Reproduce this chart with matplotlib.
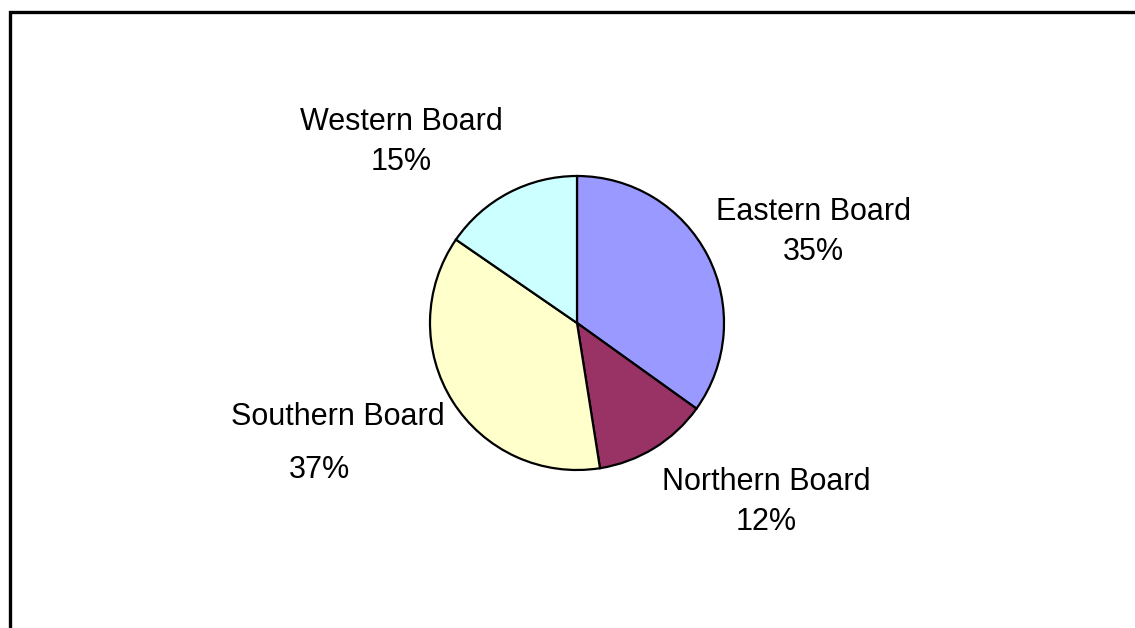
import matplotlib
matplotlib.use("Agg")
import matplotlib.pyplot as plt
from matplotlib.patches import Rectangle

# slice data, clockwise from 12 o'clock
boards = ["Eastern Board", "Northern Board", "Southern Board", "Western Board"]
shares = [34.9, 12.6, 37.1, 15.4]
pct_labels = ["35%", "12%", "37%", "15%"]
colors = ["#9999FF", "#993366", "#FFFFCC", "#CCFFFF"]

# label anchor points (pixels from top-left, name line / percent line)
name_pos = [(813, 212), (766, 482), (338, 417), (401, 122)]
pct_pos = [(813, 252), (766, 522), (319, 470), (401, 162)]

W, H = 1135, 628
fig = plt.figure(figsize=(W / 100, H / 100), dpi=100)
ax = fig.add_axes([0, 0, 1, 1])

ax.pie(shares, colors=colors, startangle=90, counterclock=False,
       center=(577, H - 323), radius=147, frame=True,
       wedgeprops=dict(edgecolor="black", linewidth=1.6))

ax.set_xlim(0, W)
ax.set_ylim(0, H)
ax.set_aspect("equal")
ax.axis("off")

# outer chart border
ax.add_patch(Rectangle((9.5, -20), W + 20, H - 11.5 + 20, fill=False,
                       edgecolor="black", linewidth=2.4))

for name, pct, npos, ppos in zip(boards, pct_labels, name_pos, pct_pos):
    ax.text(npos[0], H - npos[1], name, ha="center", va="center",
            fontsize=22, family="Liberation Sans")
    ax.text(ppos[0], H - ppos[1], pct, ha="center", va="center",
            fontsize=22, family="Liberation Sans")

fig.savefig("out.png", dpi=100)
